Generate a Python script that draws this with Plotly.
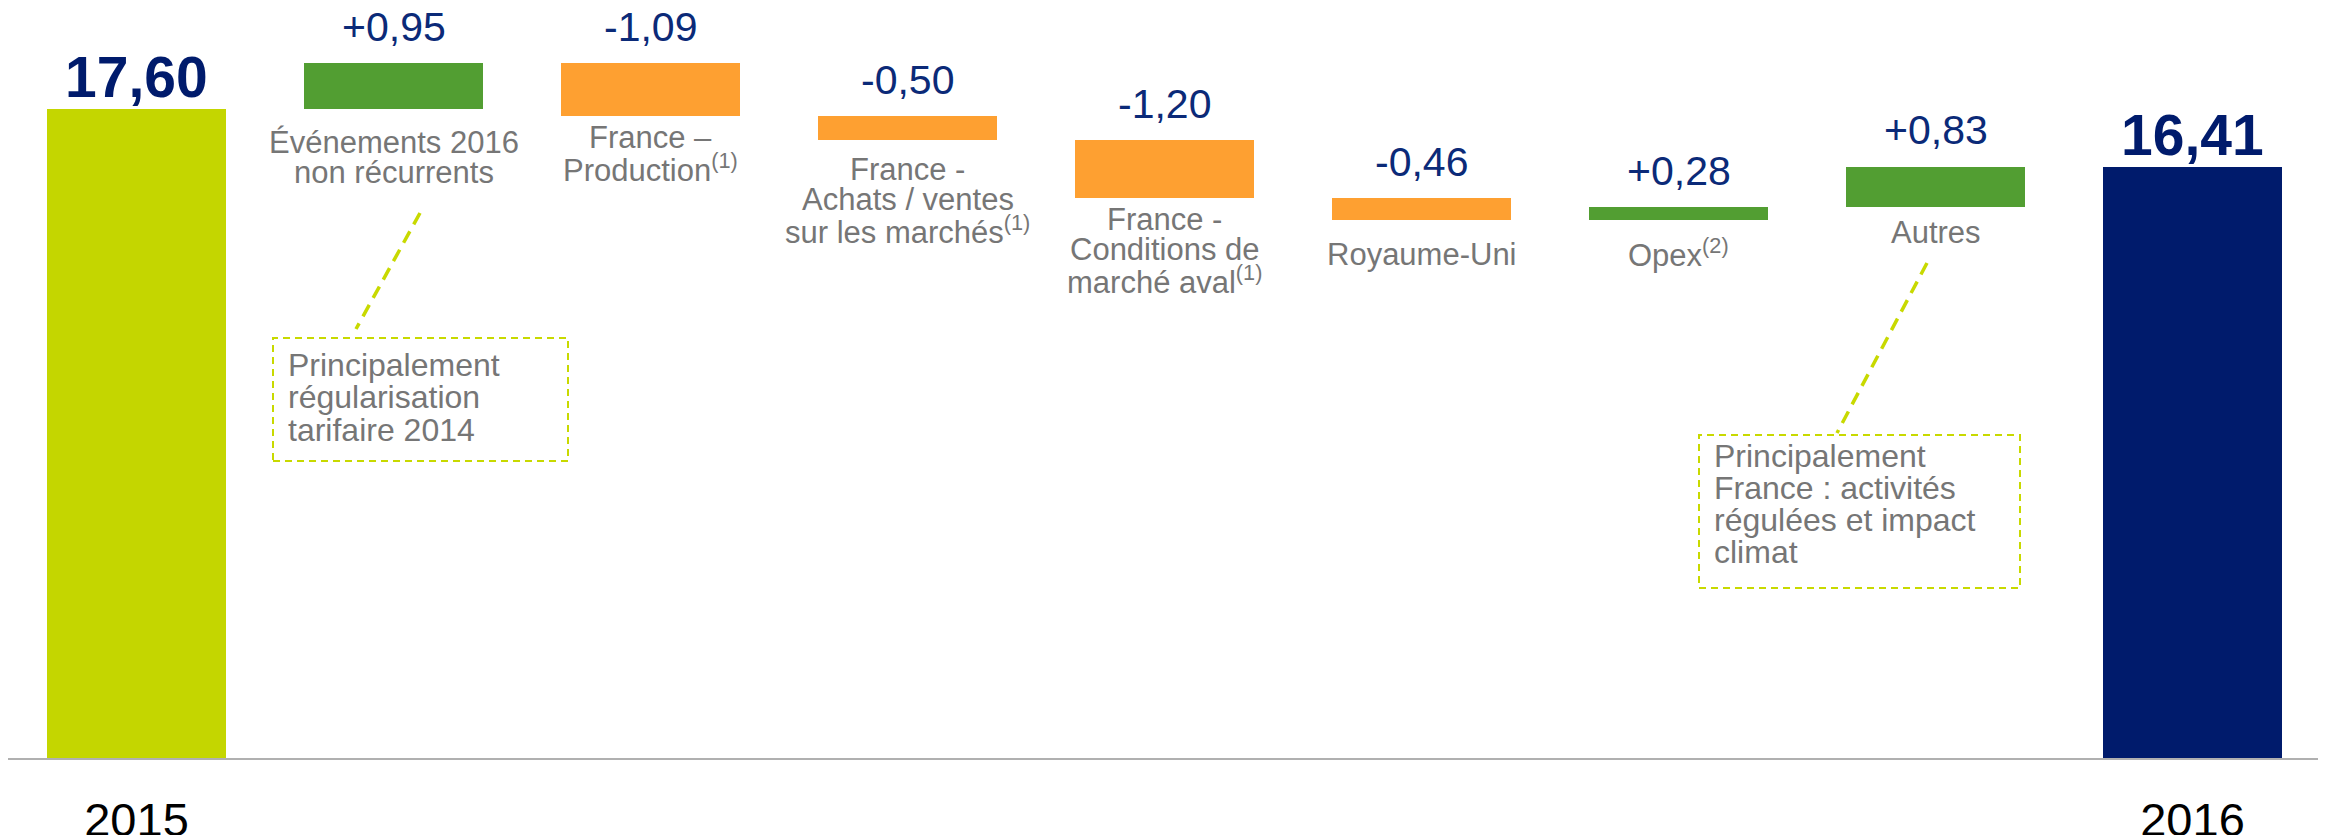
import plotly.graph_objects as go

# ---------------- data ----------------
categories = [
    "2015",
    "Événements 2016 non récurrents",
    "France – Production",
    "France - Achats / ventes sur les marchés",
    "France - Conditions de marché aval",
    "Royaume-Uni",
    "Opex",
    "Autres",
    "2016",
]
start_value = 17.60
deltas = [0.95, -1.09, -0.50, -1.20, -0.46, 0.28, 0.83]
end_value = 16.41

label_lines = [
    [],
    ["Événements 2016", "non récurrents"],
    ["France –", "Production<sup>(1)</sup>"],
    ["France -", "Achats / ventes", "sur les marchés<sup>(1)</sup>"],
    ["France -", "Conditions de", "marché aval<sup>(1)</sup>"],
    ["Royaume-Uni"],
    ["Opex<sup>(2)</sup>"],
    ["Autres"],
    [],
]
year_labels = ["2015", "2016"]
note1_lines = ["Principalement", "régularisation", "tarifaire 2014"]
note2_lines = ["Principalement", "France : activités", "régulées et impact", "climat"]

# ---------------- styles / layout constants ----------------
PAGE_OFFSET = 8  # default body margin of the html page
W, H = 2326 - PAGE_OFFSET, 835 - PAGE_OFFSET
PLOT_L, PLOT_R, PLOT_T, PLOT_B = 0, 5, 0, 77
PLOT_W = W - PLOT_L - PLOT_R
PLOT_H = H - PLOT_T - PLOT_B
Y_MIN = 4.19
PX_PER_UNIT = 48.4
Y_MAX = Y_MIN + PLOT_H / PX_PER_UNIT

LIME = "#c4d600"
GREEN = "#529e32"
ORANGE = "#fea031"
NAVY = "#001b6c"
VALUE_COLOR = "#0b2a78"
GRAY = "#767676"
NOTE_LINE = "#c8d900"
FONT = "Arial, Liberation Sans, sans-serif"

label_first_offset = [0, 44, 33, 40, 32, 45, 43, 37, 0]  # px below bar bottom to first baseline
LABEL_SIZE = 31
LABEL_STEP = 30.5
VALUE_SIZE = 41
TOTAL_SIZE = 57
NOTE_SIZE = 32
ASC_MID = 0.3465  # baseline -> text-box middle, in em


def px_x(px):
    """screen pixel x -> paper fraction"""
    return (px - PAGE_OFFSET - PLOT_L) / PLOT_W


def px_y(py):
    """screen pixel y -> paper fraction"""
    return (PLOT_T + PLOT_H - (py - PAGE_OFFSET)) / PLOT_H


# ---------------- build bars ----------------
bases = [0]
heights = [start_value]
colors = [LIME]
texts = [f"{start_value:.2f}".replace(".", ",")]
level = start_value
for d in deltas:
    new = level + d
    bases.append(min(level, new))
    heights.append(abs(d))
    colors.append(GREEN if d > 0 else ORANGE)
    texts.append(f"{d:+.2f}".replace(".", ","))
    level = new
bases.append(0)
heights.append(end_value)
colors.append(NAVY)
texts.append(f"{end_value:.2f}".replace(".", ","))

fig = go.Figure()
fig.add_trace(
    go.Bar(
        x=categories,
        y=heights,
        base=bases,
        marker=dict(color=colors, line=dict(width=0)),
        width=0.693,
        hoverinfo="skip",
        showlegend=False,
    )
)

annotations = []
n = len(categories)
for i, cat in enumerate(categories):
    top = bases[i] + heights[i]
    bottom = bases[i]
    is_total = i == 0 or i == n - 1
    if is_total:
        annotations.append(dict(
            x=i, y=top, xref="x", yref="y", text=f"<b>{texts[i]}</b>",
            showarrow=False, xanchor="center", yanchor="middle",
            yshift=12 + ASC_MID * TOTAL_SIZE, borderpad=0,
            font=dict(family=FONT, size=TOTAL_SIZE, color=NAVY),
        ))
    else:
        annotations.append(dict(
            x=i, y=top, xref="x", yref="y", text=texts[i],
            showarrow=False, xanchor="center", yanchor="middle",
            yshift=22 + ASC_MID * VALUE_SIZE, borderpad=0,
            font=dict(family=FONT, size=VALUE_SIZE, color=VALUE_COLOR),
        ))
        for j, line in enumerate(label_lines[i]):
            base_off = label_first_offset[i] + j * LABEL_STEP
            annotations.append(dict(
                x=i, y=bottom, xref="x", yref="y", text=line,
                showarrow=False, xanchor="center", yanchor="middle",
                yshift=-(base_off - ASC_MID * LABEL_SIZE), borderpad=0,
                font=dict(family=FONT, size=LABEL_SIZE, color=GRAY),
            ))


def add_note(lines, left_px, first_baseline_px, step):
    for j, line in enumerate(lines):
        bl = first_baseline_px + j * step
        annotations.append(dict(
            x=px_x(left_px), y=px_y(bl - ASC_MID * NOTE_SIZE),
            xref="paper", yref="paper", text=line, showarrow=False,
            xanchor="left", yanchor="middle", borderpad=0,
            font=dict(family=FONT, size=NOTE_SIZE, color=GRAY),
        ))


add_note(note1_lines, 287, 376, 32.5)
add_note(note2_lines, 1713, 467, 32)

shapes = []
for (x0, y0, x1, y1), (lx0, ly0, lx1, ly1) in [
    ((273, 338, 568, 461), (420, 213, 356, 329)),
    ((1699, 435, 2020, 588), (1927, 263, 1837, 433)),
]:
    shapes.append(dict(
        type="rect", xref="paper", yref="paper",
        x0=px_x(x0), x1=px_x(x1), y0=px_y(y1), y1=px_y(y0),
        line=dict(color=NOTE_LINE, width=2, dash="7px,5px"),
        fillcolor="rgba(0,0,0,0)",
    ))
    shapes.append(dict(
        type="line", xref="paper", yref="paper",
        x0=px_x(lx0), y0=px_y(ly0), x1=px_x(lx1), y1=px_y(ly1),
        line=dict(color=NOTE_LINE, width=3.5, dash="13px,8px"),
    ))

fig.update_layout(
    width=W, height=H,
    margin=dict(l=PLOT_L, r=PLOT_R, t=PLOT_T, b=PLOT_B, pad=0, autoexpand=False),
    paper_bgcolor="white", plot_bgcolor="white",
    annotations=annotations, shapes=shapes,
    bargap=0,
    xaxis=dict(
        type="category", categoryorder="array", categoryarray=categories,
        range=[-0.5, n - 0.5],
        tickvals=[categories[0], categories[-1]], ticktext=year_labels,
        ticks="", showgrid=False, zeroline=False,
        showline=True, linecolor="#b0b0b0", linewidth=2,
        tickfont=dict(family=FONT, size=47, color="#000000"),
        ticklabelstandoff=20, automargin=False,
    ),
    yaxis=dict(
        range=[Y_MIN, Y_MAX], visible=False, showgrid=False, zeroline=False,
        automargin=False,
    ),
)

fig.write_html("out.html")
